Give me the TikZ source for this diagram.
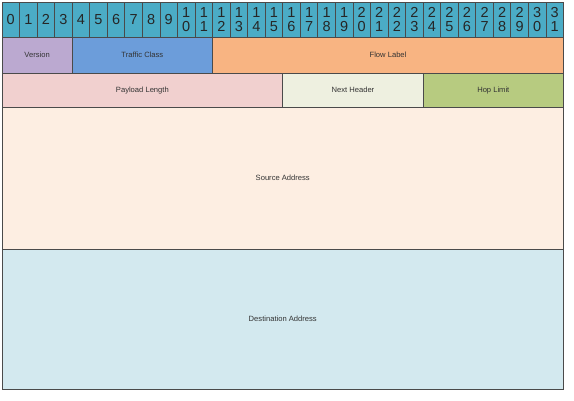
\documentclass[tikz,border=0pt]{standalone}
\usepackage{fontspec}
\setmainfont{Liberation Sans}
\definecolor{bitc}{HTML}{4BACC6}
\definecolor{verc}{HTML}{BBA9D0}
\definecolor{tcc}{HTML}{6C9DDA}
\definecolor{flc}{HTML}{F8B482}
\definecolor{plc}{HTML}{F1D0CF}
\definecolor{nhc}{HTML}{EEF0E0}
\definecolor{hlc}{HTML}{B7CB80}
\definecolor{src}{HTML}{FDEEE2}
\definecolor{dstc}{HTML}{D3E9EF}
\definecolor{edge}{HTML}{4A4A4A}
\definecolor{txt}{HTML}{333333}
\begin{document}
\begin{tikzpicture}[x=1pt,y=-1pt,
  field/.style={draw=edge,line width=0.8pt,inner sep=0pt,outer sep=0pt,
    font=\fontsize{7.6}{8}\selectfont,text=txt,anchor=north west},
  bitcell/.style={draw=edge,line width=0.8pt,fill=bitc,inner sep=0pt,outer sep=0pt,
    minimum width=17.547pt,minimum height=35.5pt,align=center,
    font=\fontsize{14.5}{14}\selectfont,text=black!85}]
\useasboundingbox (0,0) rectangle (574,400);
\fill[white] (0,0) rectangle (574,400);
\def\w{17.547}
\foreach \i in {0,...,31}{
  \ifnum\i<10
    \node[bitcell] (b\i) at ({2+(\i+0.5)*\w},19.75) {\i};
  \else
    \pgfmathtruncatemacro\tens{\i/10}
    \pgfmathtruncatemacro\ones{mod(\i,10)}
    \node[bitcell] (b\i) at ({2+(\i+0.5)*\w},19.75) {\tens\\\ones};
  \fi
}
% row 2
\node[field,fill=verc,minimum width=4*17.547pt,minimum height=35.5pt] (ver) at (2,37.5) {Version};
\node[field,fill=tcc,minimum width=8*17.547pt,minimum height=35.5pt] (tc) at ({2+4*\w},37.5) {Traffic Class};
\node[field,fill=flc,minimum width=20*17.547pt,minimum height=35.5pt] (fl) at ({2+12*\w},37.5) {Flow Label};
% row 3
\node[field,fill=plc,minimum width=16*17.547pt,minimum height=34.5pt] (pl) at (2,73) {Payload Length};
\node[field,fill=nhc,minimum width=8*17.547pt,minimum height=34.5pt] (nh) at ({2+16*\w},73) {Next Header};
\node[field,fill=hlc,minimum width=8*17.547pt,minimum height=34.5pt] (hl) at ({2+24*\w},73) {Hop Limit};
% addresses
\node[field,fill=src,minimum width=32*17.547pt,minimum height=141.5pt] (sa) at (2,107.5) {Source Address};
\node[field,fill=dstc,minimum width=32*17.547pt,minimum height=140pt] (da) at (2,249) {Destination Address};
\end{tikzpicture}
\end{document}
